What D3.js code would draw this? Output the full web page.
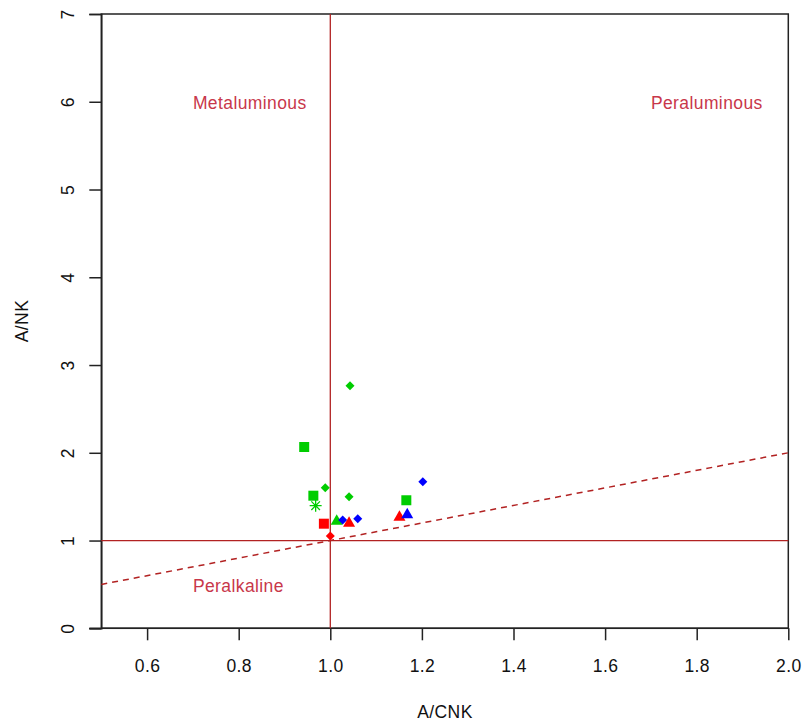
<!DOCTYPE html>
<html>
<head>
<meta charset="utf-8">
<script src="https://cdn.jsdelivr.net/npm/d3@7"></script>
<style>
  body { margin: 0; background: #fff; }
  text { font-family: "Liberation Sans", Arial, sans-serif; letter-spacing: 0.4px; }
</style>
</head>
<body>
<div id="chart"></div>
<script>
// sample values
const acnk   = [1.043, 0.943, 0.989, 0.963, 0.968, 1.041, 1.166, 1.202, 1.014, 1.027, 1.041, 1.060, 1.151, 1.168, 0.986, 1.000];
const ank    = [2.764, 2.066, 1.602, 1.511, 1.397, 1.500, 1.459, 1.670, 1.226, 1.234, 1.203, 1.249, 1.272, 1.299, 1.192, 1.052];
const colors = ["green", "green", "green", "green", "green", "green", "green", "blue", "green", "blue", "red", "blue", "red", "blue", "red", "red"];
const shapes = ["diamond", "square", "diamond", "square", "asterisk", "diamond", "square", "diamond", "triangle", "diamond", "triangle", "diamond", "triangle", "triangle", "square", "diamond"];

const xTicks = [0.6, 0.8, 1.0, 1.2, 1.4, 1.6, 1.8, 2.0];
const yTicks = [0, 1, 2, 3, 4, 5, 6, 7];
const fields = [
  {name: "Metaluminous", x: 0.7, y: 6},
  {name: "Peraluminous", x: 1.7, y: 6},
  {name: "Peralkaline",  x: 0.7, y: 0.5}
];

const width = 805, height = 725;
const fs = 17.5;
const colorMap = {green: "#00CD00", blue: "#0000FF", red: "#FF0000"};
const lineCol = "#B22222", textCol = "#C8374A";

const x = d3.scaleLinear().domain([0.5, 2]).range([101.3, 788.3]);
const y = d3.scaleLinear().domain([0, 7]).range([628.3, 14]);

const svg = d3.select("#chart").append("svg")
    .attr("width", width)
    .attr("height", height);

// box
svg.append("rect")
    .attr("x", x(0.5)).attr("y", y(7))
    .attr("width", x(2) - x(0.5)).attr("height", y(0) - y(7))
    .attr("fill", "none").attr("stroke", "#222").attr("stroke-width", 1.5);

// x axis
const xAxis = svg.append("g")
    .attr("transform", `translate(0,${y(0)})`)
    .call(d3.axisBottom(x).tickValues(xTicks).tickFormat(d3.format(".1f")).tickSize(12).tickPadding(19));
xAxis.select(".domain").attr("d", `M${x(0.5) - 12},0H${x(2)}`);

// y axis
const yAxis = svg.append("g")
    .attr("transform", `translate(${x(0.5)},0)`)
    .call(d3.axisLeft(y).tickValues(yTicks).tickFormat(d3.format("d")).tickSize(12).tickPadding(20));
yAxis.selectAll(".tick text")
    .attr("transform", "rotate(-90)")
    .attr("x", 0).attr("y", -33)
    .attr("dy", "0.35em")
    .attr("text-anchor", "middle");

for (const g of [xAxis, yAxis]) {
  g.selectAll(".domain, .tick line").attr("stroke", "#222").attr("stroke-width", 1.5);
  g.selectAll(".tick text").attr("font-size", fs).attr("fill", "#111")
      .style("font-family", "'Liberation Sans', Arial, sans-serif");
}

// axis titles
svg.append("text")
    .attr("x", 445).attr("y", 718)
    .attr("text-anchor", "middle").attr("font-size", fs).attr("fill", "#111")
    .text("A/CNK");
svg.append("text")
    .attr("transform", `translate(28,321) rotate(-90)`)
    .attr("text-anchor", "middle").attr("font-size", fs).attr("fill", "#111")
    .text("A/NK");

// reference lines
svg.append("line")
    .attr("x1", x(1)).attr("x2", x(1)).attr("y1", y(7)).attr("y2", y(0))
    .attr("stroke", lineCol).attr("stroke-width", 1.3);
svg.append("line")
    .attr("x1", x(0.5)).attr("x2", x(2)).attr("y1", y(1)).attr("y2", y(1))
    .attr("stroke", lineCol).attr("stroke-width", 1.3);
svg.append("line")
    .attr("x1", x(0.5)).attr("x2", x(2)).attr("y1", y(0.5)).attr("y2", y(2))
    .attr("stroke", lineCol).attr("stroke-width", 1.5)
    .attr("stroke-dasharray", "6,5");

// field labels
svg.selectAll(".field").data(fields).join("text")
    .attr("class", "field")
    .attr("x", d => x(d.x)).attr("y", d => y(d.y) + 1.5)
    .attr("dy", "0.35em")
    .attr("font-size", fs).attr("fill", textCol)
    .text(d => d.name);

// points
const symbolPath = {
  square: d3.symbol(d3.symbolSquare, 100)(),
  diamond: "M0,-4.5L4.5,0L0,4.5L-4.5,0Z",
  triangle: "M0,-6.5L6,4L-6,4Z",
  asterisk: "M-6,0H6M0,-6V6M-4.3,-4.3L4.3,4.3M-4.3,4.3L4.3,-4.3"
};

const pts = acnk.map((v, i) => ({x: v, y: ank[i], c: colorMap[colors[i]], s: shapes[i]}));
svg.selectAll(".pt").data(pts).join("path")
    .attr("class", "pt")
    .attr("transform", d => `translate(${x(d.x)},${y(d.y)})`)
    .attr("d", d => symbolPath[d.s])
    .attr("fill", d => d.s === "asterisk" ? "none" : d.c)
    .attr("stroke", d => d.s === "asterisk" ? d.c : "none")
    .attr("stroke-width", 1.3);
</script>
</body>
</html>
